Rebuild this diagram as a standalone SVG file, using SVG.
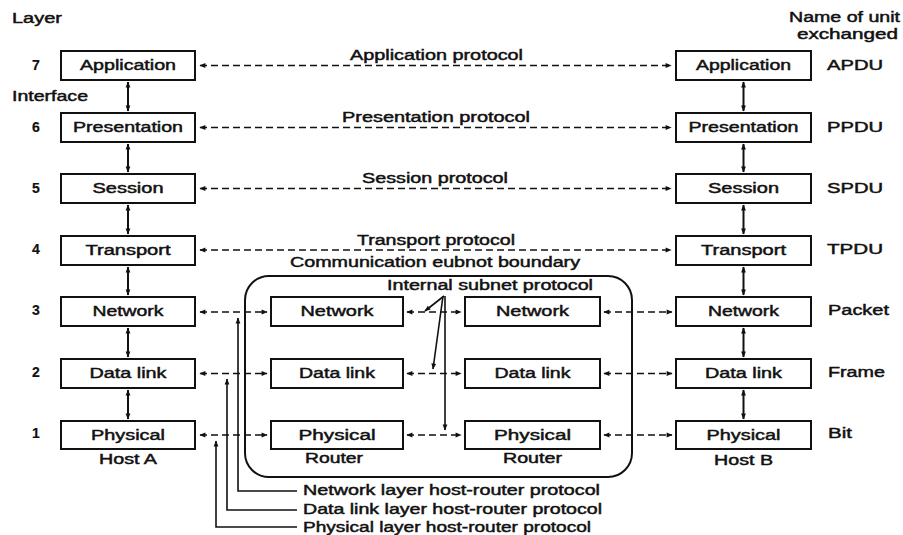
<svg xmlns="http://www.w3.org/2000/svg" width="903" height="535" viewBox="0 0 903 535">
  <style>
    text { font-family: "Liberation Sans", Arial, sans-serif; font-size: 14px; fill: #111; stroke: #111; stroke-width: 0.45; }
    .c { text-anchor: middle; }
    .num { font-weight: bold; stroke-width: 0.2; }
    .box { fill: #fff; stroke: #111; stroke-width: 2; }
    .peer { fill: none; stroke: #111; stroke-width: 1.6; stroke-dasharray: 7 4; marker-start: url(#ah); marker-end: url(#ah); }
    .iface { fill: none; stroke: #111; stroke-width: 2; marker-start: url(#ah); marker-end: url(#ah); }
    .lead { fill: none; stroke: #111; stroke-width: 1.6; marker-end: url(#ah); }
    .bound { fill: none; stroke: #111; stroke-width: 2; }
  </style>
  <defs>
    <marker id="ah" viewBox="0 0 10 10" refX="9" refY="5" markerWidth="8" markerHeight="6" markerUnits="userSpaceOnUse" orient="auto-start-reverse">
      <path d="M0,1 L10,5 L0,9 Z" fill="#111"/>
    </marker>
  </defs>

  <!-- headings -->
  <g id="headings">
    <text x="12" y="23" textLength="50" lengthAdjust="spacingAndGlyphs">Layer</text>
    <text x="789" y="22" textLength="111" lengthAdjust="spacingAndGlyphs">Name of unit</text>
    <text x="797" y="39" textLength="101" lengthAdjust="spacingAndGlyphs">exchanged</text>
    <text x="12" y="101" textLength="76" lengthAdjust="spacingAndGlyphs">Interface</text>
  </g>

  <!-- layer numbers -->
  <g id="layer-numbers">
    <text class="c num" x="36" y="70">7</text>
    <text class="c num" x="36" y="132">6</text>
    <text class="c num" x="36" y="193">5</text>
    <text class="c num" x="36" y="254">4</text>
    <text class="c num" x="36" y="315">3</text>
    <text class="c num" x="36" y="377">2</text>
    <text class="c num" x="36" y="438">1</text>
  </g>

  <!-- unit names -->
  <g id="unit-names">
    <text x="827" y="70" textLength="56" lengthAdjust="spacingAndGlyphs">APDU</text>
    <text x="827" y="132" textLength="56" lengthAdjust="spacingAndGlyphs">PPDU</text>
    <text x="827" y="193" textLength="56" lengthAdjust="spacingAndGlyphs">SPDU</text>
    <text x="827" y="254" textLength="56" lengthAdjust="spacingAndGlyphs">TPDU</text>
    <text x="828" y="315" textLength="61" lengthAdjust="spacingAndGlyphs">Packet</text>
    <text x="828" y="377" textLength="57" lengthAdjust="spacingAndGlyphs">Frame</text>
    <text x="828" y="438" textLength="24" lengthAdjust="spacingAndGlyphs">Bit</text>
  </g>

  <!-- communication subnet boundary -->
  <g id="subnet-boundary">
    <rect class="bound" x="245" y="276" width="387" height="201" rx="24"/>
    <text x="290" y="267" textLength="290" lengthAdjust="spacingAndGlyphs">Communication eubnot boundary</text>
  </g>

  <!-- Host A stack -->
  <g id="hostA-application"><rect class="box" x="61" y="51" width="134" height="29"/><text class="c" x="128" y="70" textLength="96" lengthAdjust="spacingAndGlyphs">Application</text></g>
  <g id="hostA-presentation"><rect class="box" x="61" y="113" width="134" height="29"/><text class="c" x="128" y="132" textLength="110" lengthAdjust="spacingAndGlyphs">Presentation</text></g>
  <g id="hostA-session"><rect class="box" x="61" y="174" width="134" height="29"/><text class="c" x="128" y="193" textLength="71" lengthAdjust="spacingAndGlyphs">Session</text></g>
  <g id="hostA-transport"><rect class="box" x="61" y="236" width="134" height="29"/><text class="c" x="128" y="255" textLength="85" lengthAdjust="spacingAndGlyphs">Transport</text></g>
  <g id="hostA-network"><rect class="box" x="61" y="297" width="134" height="29"/><text class="c" x="128" y="316" textLength="71" lengthAdjust="spacingAndGlyphs">Network</text></g>
  <g id="hostA-datalink"><rect class="box" x="61" y="359" width="134" height="29"/><text class="c" x="128" y="378" textLength="77" lengthAdjust="spacingAndGlyphs">Data link</text></g>
  <g id="hostA-physical"><rect class="box" x="61" y="421" width="134" height="28"/><text class="c" x="128" y="440" textLength="74" lengthAdjust="spacingAndGlyphs">Physical</text></g>
  <g id="hostA-label"><text class="c" x="128" y="464" textLength="58" lengthAdjust="spacingAndGlyphs">Host A</text></g>

  <!-- Host B stack -->
  <g id="hostB-application"><rect class="box" x="676" y="51" width="135" height="29"/><text class="c" x="743.5" y="70" textLength="95" lengthAdjust="spacingAndGlyphs">Application</text></g>
  <g id="hostB-presentation"><rect class="box" x="676" y="113" width="135" height="29"/><text class="c" x="743.5" y="132" textLength="110" lengthAdjust="spacingAndGlyphs">Presentation</text></g>
  <g id="hostB-session"><rect class="box" x="676" y="174" width="135" height="29"/><text class="c" x="743.5" y="193" textLength="71" lengthAdjust="spacingAndGlyphs">Session</text></g>
  <g id="hostB-transport"><rect class="box" x="676" y="236" width="135" height="29"/><text class="c" x="743.5" y="255" textLength="85" lengthAdjust="spacingAndGlyphs">Transport</text></g>
  <g id="hostB-network"><rect class="box" x="676" y="297" width="135" height="29"/><text class="c" x="743.5" y="316" textLength="71" lengthAdjust="spacingAndGlyphs">Network</text></g>
  <g id="hostB-datalink"><rect class="box" x="676" y="359" width="135" height="29"/><text class="c" x="743.5" y="378" textLength="77" lengthAdjust="spacingAndGlyphs">Data link</text></g>
  <g id="hostB-physical"><rect class="box" x="676" y="421" width="135" height="28"/><text class="c" x="743.5" y="440" textLength="74" lengthAdjust="spacingAndGlyphs">Physical</text></g>
  <g id="hostB-label"><text class="c" x="743.5" y="465" textLength="59" lengthAdjust="spacingAndGlyphs">Host B</text></g>

  <!-- Router 1 -->
  <g id="router1-network"><rect class="box" x="271" y="297" width="132" height="29"/><text class="c" x="337" y="316" textLength="73" lengthAdjust="spacingAndGlyphs">Network</text></g>
  <g id="router1-datalink"><rect class="box" x="271" y="359" width="132" height="29"/><text class="c" x="337" y="378" textLength="76" lengthAdjust="spacingAndGlyphs">Data link</text></g>
  <g id="router1-physical"><rect class="box" x="271" y="421" width="132" height="28"/><text class="c" x="337" y="440" textLength="77" lengthAdjust="spacingAndGlyphs">Physical</text></g>
  <g id="router1-label"><text class="c" x="334" y="463" textLength="58" lengthAdjust="spacingAndGlyphs">Router</text></g>

  <!-- Router 2 -->
  <g id="router2-network"><rect class="box" x="465" y="297" width="135" height="29"/><text class="c" x="532.5" y="316" textLength="73" lengthAdjust="spacingAndGlyphs">Network</text></g>
  <g id="router2-datalink"><rect class="box" x="465" y="359" width="135" height="29"/><text class="c" x="532.5" y="378" textLength="76" lengthAdjust="spacingAndGlyphs">Data link</text></g>
  <g id="router2-physical"><rect class="box" x="465" y="421" width="135" height="28"/><text class="c" x="532.5" y="440" textLength="77" lengthAdjust="spacingAndGlyphs">Physical</text></g>
  <g id="router2-label"><text class="c" x="532.5" y="463" textLength="59" lengthAdjust="spacingAndGlyphs">Router</text></g>

  <!-- connectors -->
  <g id="connectors">
    <!-- peer protocols, layers 7..4 -->
    <path class="peer" d="M200,65.5 H671"/>
    <path class="peer" d="M200,127.5 H671"/>
    <path class="peer" d="M200,188.5 H671"/>
    <path class="peer" d="M200,250 H671"/>
    <text x="350" y="60" textLength="173" lengthAdjust="spacingAndGlyphs">Application protocol</text>
    <text x="342" y="122" textLength="188" lengthAdjust="spacingAndGlyphs">Presentation protocol</text>
    <text x="362" y="183" textLength="146" lengthAdjust="spacingAndGlyphs">Session protocol</text>
    <text x="357" y="245" textLength="158" lengthAdjust="spacingAndGlyphs">Transport protocol</text>

    <!-- hop-by-hop links, layers 3..1 -->
    <path class="peer" d="M200,312 H267"/>
    <path class="peer" d="M200,373.5 H267"/>
    <path class="peer" d="M200,435 H267"/>
    <path class="peer" d="M407,312 H461"/>
    <path class="peer" d="M407,373.5 H461"/>
    <path class="peer" d="M407,435 H461"/>
    <path class="peer" d="M604,312 H672"/>
    <path class="peer" d="M604,373.5 H672"/>
    <path class="peer" d="M604,435 H672"/>

    <!-- interfaces between adjacent layers -->
    <path class="iface" d="M128,82 V111"/>
    <path class="iface" d="M128,144 V172"/>
    <path class="iface" d="M128,205 V234"/>
    <path class="iface" d="M128,267 V295"/>
    <path class="iface" d="M128,328 V357"/>
    <path class="iface" d="M128,390 V419"/>
    <path class="iface" d="M743.5,82 V111"/>
    <path class="iface" d="M743.5,144 V172"/>
    <path class="iface" d="M743.5,205 V234"/>
    <path class="iface" d="M743.5,267 V295"/>
    <path class="iface" d="M743.5,328 V357"/>
    <path class="iface" d="M743.5,390 V419"/>

    <!-- internal subnet protocol pointers -->
    <text x="387" y="290" textLength="206" lengthAdjust="spacingAndGlyphs">Internal subnet protocol</text>
    <path class="lead" d="M444,296 L425,311"/>
    <path class="lead" d="M443,296 L433,369"/>
    <path class="lead" d="M445,296 V430"/>

    <!-- host-router protocol pointers -->
    <path class="lead" d="M297,491 H238 V318"/>
    <path class="lead" d="M297,510 H227 V379"/>
    <path class="lead" d="M297,527 H216 V441"/>
    <text x="303" y="495" textLength="297" lengthAdjust="spacingAndGlyphs">Network layer host-router protocol</text>
    <text x="303" y="514" textLength="299" lengthAdjust="spacingAndGlyphs">Data link layer host-router protocol</text>
    <text x="303" y="532" textLength="288" lengthAdjust="spacingAndGlyphs">Physical layer host-router protocol</text>
  </g>
</svg>
